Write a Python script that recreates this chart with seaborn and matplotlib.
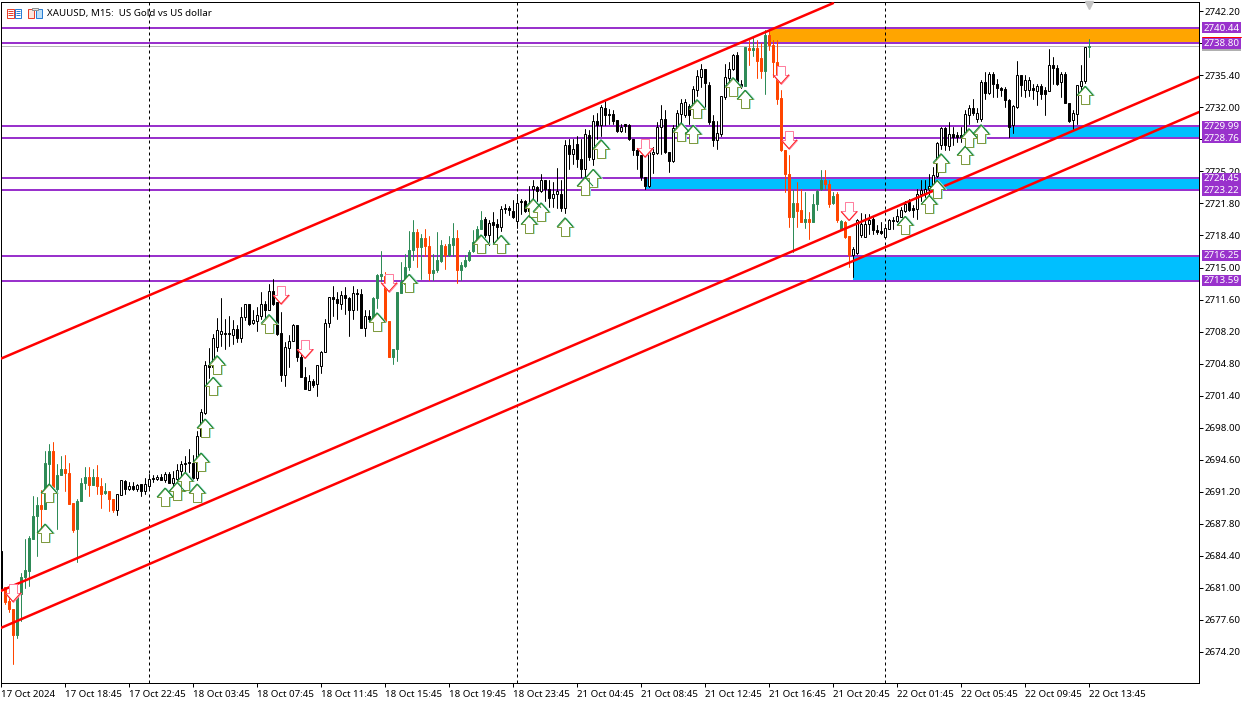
import numpy as np
import pandas as pd
import matplotlib
matplotlib.use("Agg")
import matplotlib.pyplot as plt
import seaborn as sns
from matplotlib.patches import Rectangle
from matplotlib.path import Path
from matplotlib.transforms import IdentityTransform

# -----------------------------
# Candles
# -----------------------------
opens = [
    2684.9, 2681.1, 2679.6, 2678.75, 2676.0, 2680.3, 2682.1, 2682.8, 2686.2, 2688.65,
    2689.8, 2689.4, 2694.15, 2695.55, 2691.5, 2693.0, 2693.65, 2693.15, 2690.0, 2687.2,
    2690.2, 2692.1, 2692.75, 2691.95, 2692.8, 2691.85, 2691.1, 2691.3, 2690.45, 2689.3,
    2690.85, 2692.3, 2691.5, 2691.85, 2691.5, 2692.0, 2691.25, 2691.85, 2692.65, 2692.6,
    2692.8, 2692.4, 2693.1, 2692.15, 2692.55, 2693.35, 2694.1, 2694.4, 2694.3, 2692.7,
    2697.15, 2699.55, 2704.65, 2704.4, 2706.55, 2707.9, 2708.05, 2708.0, 2707.8, 2708.5,
    2707.55, 2709.7, 2711.1, 2709.1, 2709.3, 2709.9, 2711.15, 2710.45, 2712.55, 2711.3,
    2708.05, 2703.55, 2706.45, 2707.2, 2708.9, 2705.45, 2703.4, 2702.05, 2703.0, 2702.65,
    2704.5, 2706.0, 2709.1, 2711.85, 2711.65, 2711.15, 2712.05, 2711.8, 2710.5, 2712.3,
    2712.15, 2708.6, 2709.9, 2709.45, 2711.8, 2714.15, 2714.15, 2709.35, 2705.55, 2706.35,
    2712.3, 2713.25, 2715.1, 2716.9, 2718.75, 2717.15, 2718.15, 2717.3, 2714.4, 2714.7,
    2715.7, 2717.25, 2716.3, 2717.35, 2718.15, 2714.7, 2715.2, 2715.75, 2716.75, 2717.7,
    2719.05, 2720.15, 2718.45, 2719.85, 2719.65, 2719.3, 2721.35, 2721.35, 2721.05, 2719.95,
    2721.9, 2722.1, 2721.6, 2723.35, 2723.55, 2723.1, 2724.3, 2723.35, 2722.35, 2722.85,
    2722.85, 2721.35, 2728.05, 2727.0, 2728.15, 2726.55, 2725.5, 2729.1, 2726.55, 2730.55,
    2730.15, 2731.95, 2731.15, 2731.3, 2730.7, 2729.5, 2730.2, 2730.1, 2728.65, 2727.45,
    2726.9, 2724.6, 2723.6, 2727.1, 2727.15, 2729.9, 2730.8, 2727.25, 2726.35, 2729.75,
    2731.25, 2731.15, 2732.1, 2732.1, 2733.8, 2735.2, 2736.05, 2734.35, 2730.6, 2728.55,
    2729.2, 2733.1, 2735.15, 2736.05, 2737.6, 2734.5, 2734.25, 2738.35, 2738.05, 2738.35,
    2737.25, 2735.85, 2739.65, 2738.6, 2736.8, 2733.0, 2727.45, 2724.95, 2720.35, 2721.85,
    2721.1, 2719.8, 2720.1, 2719.8, 2721.75, 2723.35, 2724.3, 2723.9, 2721.85, 2722.75,
    2719.1, 2719.8, 2718.3, 2716.3, 2716.55, 2718.4, 2718.25, 2719.6, 2720.1, 2718.95,
    2718.85, 2718.25, 2719.1, 2720.05, 2719.9, 2720.35, 2721.05, 2721.95, 2721.3, 2721.25,
    2722.85, 2722.85, 2723.35, 2723.7, 2724.7, 2728.05, 2729.85, 2727.85, 2729.2, 2729.1,
    2729.1, 2728.9, 2731.15, 2731.95, 2730.75, 2730.75, 2734.65, 2733.5, 2735.55, 2734.5,
    2734.0, 2733.9, 2732.8, 2730.1, 2732.05, 2735.4, 2733.85, 2733.85, 2734.1, 2733.75,
    2734.25, 2733.8, 2733.75, 2736.45, 2736.2, 2734.7, 2735.5, 2732.5, 2730.7, 2731.25,
    2734.25, 2734.75, 2738.4,
]
closes = [
    2681.0, 2679.55, 2678.75, 2676.0, 2680.3, 2682.2, 2682.9, 2686.3, 2688.65, 2689.8,
    2689.4, 2694.2, 2695.55, 2691.65, 2693.0, 2693.65, 2693.15, 2689.95, 2687.15, 2690.25,
    2692.1, 2692.75, 2691.95, 2692.8, 2691.85, 2691.0, 2691.3, 2690.4, 2689.25, 2691.0,
    2692.4, 2691.5, 2691.85, 2691.5, 2691.9, 2691.25, 2692.0, 2692.55, 2692.5, 2692.75,
    2692.4, 2693.1, 2692.15, 2692.65, 2693.5, 2694.15, 2694.3, 2694.25, 2692.65, 2697.15,
    2699.65, 2704.6, 2704.4, 2707.55, 2708.4, 2708.25, 2707.9, 2707.9, 2708.5, 2707.55,
    2709.7, 2711.1, 2709.0, 2709.4, 2710.0, 2711.15, 2710.45, 2712.55, 2711.15, 2707.95,
    2703.55, 2706.55, 2707.25, 2708.9, 2705.45, 2703.35, 2702.1, 2703.0, 2702.55, 2704.6,
    2706.0, 2709.1, 2711.85, 2711.65, 2711.2, 2712.05, 2711.75, 2710.5, 2712.3, 2712.15,
    2708.6, 2709.9, 2709.55, 2711.8, 2714.25, 2714.3, 2709.3, 2705.55, 2706.35, 2712.4,
    2713.45, 2715.1, 2716.9, 2718.75, 2717.15, 2718.1, 2717.25, 2714.4, 2714.7, 2715.75,
    2717.35, 2716.3, 2717.45, 2718.1, 2714.7, 2715.25, 2715.75, 2716.65, 2717.75, 2719.1,
    2720.05, 2718.5, 2719.75, 2719.55, 2719.3, 2721.25, 2721.2, 2721.15, 2720.35, 2721.85,
    2722.1, 2721.05, 2721.05, 2723.7, 2723.1, 2724.25, 2723.35, 2722.35, 2722.85, 2723.1,
    2721.35, 2728.05, 2727.0, 2727.6, 2726.55, 2725.5, 2729.2, 2726.7, 2730.6, 2730.15,
    2732.05, 2731.15, 2731.3, 2730.55, 2729.5, 2729.9, 2730.05, 2728.65, 2727.45, 2726.9,
    2724.6, 2723.7, 2727.25, 2727.3, 2729.9, 2730.8, 2727.25, 2726.35, 2729.85, 2731.35,
    2732.45, 2732.55, 2731.15, 2733.9, 2735.3, 2736.05, 2734.6, 2730.45, 2728.55, 2729.3,
    2733.15, 2735.2, 2736.1, 2737.6, 2734.15, 2734.15, 2738.4, 2738.05, 2738.35, 2736.9,
    2735.85, 2739.65, 2738.6, 2736.8, 2732.85, 2727.45, 2724.95, 2720.35, 2721.85, 2721.05,
    2719.8, 2720.1, 2719.8, 2721.75, 2723.1, 2724.3, 2723.9, 2721.75, 2722.6, 2720.0,
    2719.9, 2718.25, 2716.3, 2717.0, 2720.0, 2719.65, 2719.65, 2720.0, 2718.95, 2718.75,
    2718.65, 2719.2, 2720.05, 2719.9, 2720.5, 2721.15, 2721.75, 2721.15, 2721.15, 2722.85,
    2723.2, 2723.35, 2723.7, 2724.8, 2728.2, 2729.85, 2727.95, 2729.2, 2728.85, 2728.85,
    2728.85, 2731.25, 2731.95, 2731.35, 2731.4, 2734.65, 2733.5, 2735.55, 2734.45, 2734.0,
    2733.8, 2732.75, 2729.95, 2732.1, 2735.4, 2734.35, 2734.85, 2734.85, 2733.8, 2734.25,
    2733.4, 2733.45, 2736.45, 2736.2, 2734.45, 2735.5, 2732.45, 2730.6, 2731.35, 2734.35,
    2734.8, 2738.4, 2738.5,
]
highs = [
    2685.2, 2681.1, 2680.3, 2678.75, 2680.3, 2682.6, 2686.2, 2686.5, 2690.8, 2690.6,
    2691.4, 2695.55, 2696.25, 2696.5, 2694.1, 2695.0, 2695.1, 2694.3, 2690.0, 2690.4,
    2692.7, 2693.8, 2693.8, 2693.6, 2694.05, 2692.7, 2692.1, 2691.3, 2690.45, 2691.0,
    2692.45, 2692.4, 2692.2, 2692.2, 2692.0, 2692.0, 2692.7, 2693.1, 2693.0, 2693.0,
    2693.1, 2693.25, 2693.25, 2693.45, 2694.15, 2694.5, 2695.0, 2695.75, 2695.1, 2697.6,
    2699.98, 2705.05, 2706.5, 2707.9, 2709.65, 2711.8, 2709.55, 2709.9, 2709.4, 2708.95,
    2710.8, 2711.15, 2711.15, 2710.45, 2710.8, 2712.4, 2711.4, 2713.25, 2713.8, 2711.3,
    2710.25, 2707.05, 2707.8, 2709.0, 2708.95, 2705.8, 2704.4, 2703.55, 2703.2, 2704.7,
    2706.1, 2709.5, 2711.9, 2713.0, 2712.4, 2712.55, 2712.9, 2711.9, 2713.0, 2712.75,
    2712.75, 2710.45, 2710.45, 2711.85, 2714.3, 2716.8, 2714.5, 2709.35, 2706.35, 2712.4,
    2715.55, 2716.45, 2718.9, 2720.0, 2719.1, 2718.6, 2719.1, 2718.3, 2716.45, 2718.75,
    2717.9, 2717.5, 2718.3, 2719.7, 2719.0, 2715.6, 2716.3, 2716.9, 2719.0, 2719.45,
    2721.05, 2720.35, 2720.0, 2720.9, 2720.2, 2721.5, 2721.75, 2721.5, 2722.2, 2722.85,
    2722.3, 2722.15, 2723.7, 2724.25, 2723.7, 2724.9, 2724.3, 2724.25, 2724.05, 2725.6,
    2724.25, 2728.55, 2728.6, 2728.6, 2729.0, 2728.65, 2729.65, 2729.55, 2731.15, 2731.35,
    2732.2, 2732.7, 2731.85, 2731.75, 2730.7, 2730.25, 2730.25, 2730.25, 2728.65, 2727.6,
    2726.9, 2724.6, 2727.45, 2727.8, 2730.45, 2732.3, 2731.7, 2727.25, 2730.1, 2731.75,
    2732.9, 2732.9, 2732.4, 2734.25, 2735.95, 2736.65, 2736.1, 2734.7, 2731.15, 2730.6,
    2733.25, 2736.65, 2736.8, 2737.7, 2737.85, 2734.85, 2738.45, 2739.1, 2739.45, 2739.1,
    2738.85, 2740.2, 2740.35, 2739.1, 2739.1, 2733.8, 2727.45, 2726.9, 2723.2, 2724.05,
    2723.35, 2723.0, 2720.9, 2722.85, 2723.2, 2725.3, 2725.3, 2724.25, 2723.0, 2723.0,
    2720.0, 2719.9, 2718.3, 2717.15, 2720.15, 2720.8, 2720.7, 2720.7, 2720.35, 2719.5,
    2719.8, 2719.65, 2720.15, 2720.35, 2721.2, 2721.4, 2722.1, 2722.3, 2721.6, 2723.35,
    2724.25, 2724.25, 2724.95, 2725.65, 2728.3, 2729.9, 2729.9, 2730.45, 2729.9, 2729.4,
    2729.9, 2731.7, 2732.2, 2732.9, 2731.95, 2734.85, 2735.75, 2735.75, 2735.75, 2735.05,
    2734.15, 2734.15, 2732.9, 2732.2, 2736.95, 2735.4, 2735.4, 2735.2, 2734.5, 2734.5,
    2734.5, 2734.15, 2738.15, 2737.35, 2736.45, 2735.75, 2735.75, 2732.5, 2731.7, 2734.35,
    2736.45, 2738.45, 2739.2,
]
lows = [
    2681.0, 2679.3, 2678.4, 2672.9, 2675.7, 2677.5, 2681.0, 2681.2, 2686.2, 2684.4,
    2687.05, 2689.4, 2691.5, 2691.5, 2687.25, 2693.0, 2691.3, 2689.95, 2686.9, 2683.7,
    2690.2, 2691.5, 2690.8, 2691.95, 2690.95, 2689.5, 2690.95, 2689.2, 2689.0, 2688.7,
    2690.85, 2690.95, 2691.4, 2691.4, 2691.3, 2690.8, 2690.95, 2691.4, 2692.2, 2692.4,
    2692.4, 2692.2, 2692.1, 2691.65, 2692.4, 2692.4, 2693.25, 2693.25, 2692.55, 2692.45,
    2697.0, 2699.4, 2703.3, 2704.4, 2706.1, 2706.7, 2706.35, 2706.7, 2706.9, 2707.05,
    2707.05, 2709.4, 2708.95, 2709.0, 2708.3, 2709.55, 2709.7, 2710.45, 2711.0, 2707.8,
    2703.0, 2702.4, 2704.4, 2707.2, 2705.1, 2703.35, 2702.1, 2701.95, 2702.3, 2701.4,
    2703.8, 2706.0, 2708.65, 2709.9, 2709.55, 2710.6, 2710.1, 2707.7, 2709.55, 2710.45,
    2708.6, 2707.7, 2709.2, 2709.45, 2710.7, 2713.6, 2709.3, 2705.5, 2704.75, 2705.1,
    2712.3, 2713.25, 2714.7, 2715.8, 2715.1, 2713.8, 2716.2, 2713.65, 2713.65, 2714.5,
    2715.6, 2714.8, 2716.2, 2716.2, 2713.35, 2713.65, 2715.1, 2715.65, 2716.65, 2717.7,
    2719.05, 2718.25, 2717.35, 2717.7, 2718.05, 2718.85, 2720.8, 2720.55, 2720.25, 2719.2,
    2720.7, 2720.9, 2720.35, 2721.6, 2722.1, 2723.0, 2722.1, 2721.4, 2721.4, 2721.35,
    2721.05, 2720.8, 2725.5, 2726.0, 2725.65, 2724.6, 2723.9, 2726.4, 2725.85, 2728.65,
    2729.0, 2730.1, 2730.25, 2730.25, 2729.4, 2729.4, 2729.4, 2728.55, 2726.9, 2725.5,
    2724.25, 2723.35, 2723.5, 2725.0, 2727.1, 2727.1, 2727.2, 2725.15, 2726.2, 2729.55,
    2730.1, 2730.95, 2730.25, 2731.85, 2733.25, 2734.15, 2732.05, 2730.25, 2727.85, 2727.55,
    2729.0, 2732.9, 2734.7, 2735.95, 2733.95, 2734.1, 2734.25, 2736.45, 2737.5, 2735.15,
    2735.15, 2733.4, 2738.05, 2735.2, 2732.4, 2727.35, 2723.0, 2719.3, 2716.65, 2719.3,
    2719.8, 2719.2, 2718.05, 2719.8, 2721.15, 2723.2, 2723.35, 2721.4, 2721.7, 2719.8,
    2718.95, 2718.15, 2715.05, 2713.95, 2716.45, 2718.25, 2718.25, 2718.6, 2718.6, 2718.6,
    2718.6, 2718.15, 2719.1, 2719.1, 2719.8, 2720.35, 2720.9, 2721.05, 2720.35, 2720.2,
    2722.1, 2722.5, 2722.65, 2723.55, 2724.6, 2727.6, 2727.45, 2727.45, 2727.95, 2728.3,
    2728.3, 2728.5, 2730.25, 2731.15, 2730.45, 2730.6, 2732.9, 2733.4, 2733.1, 2733.05,
    2733.15, 2732.05, 2728.85, 2729.25, 2731.95, 2733.25, 2733.1, 2733.15, 2732.9, 2732.3,
    2732.9, 2731.2, 2733.75, 2734.5, 2734.35, 2733.1, 2732.45, 2730.45, 2729.55, 2730.2,
    2733.8, 2734.6, 2737.3,
]

# candle ranges drawn green/orange, everything else is white/black
colored_first = [1, 93, 186, 272]
colored_last = [28, 120, 212, 272]

# -----------------------------
# Levels, zones, trend lines
# -----------------------------
level_prices = [2740.44, 2738.80, 2729.99, 2728.76, 2724.45, 2723.22, 2716.25, 2713.59]

zone_start = [192, 252, 161, 213]
zone_low = [2738.80, 2728.76, 2723.22, 2713.59]
zone_high = [2740.44, 2729.99, 2724.45, 2716.25]
zone_color = ["#FFA500", "#00BFFF", "#00BFFF", "#00BFFF"]

trend_x = [[0, 208], [0, 299.5], [0, 299.5]]
trend_y = [[2705.33, 2743.05], [2680.68, 2735.24], [2676.75, 2731.50]]

day_breaks = [37, 129, 221]

# -----------------------------
# Signal arrows
# -----------------------------
up_idx = [11, 12, 41, 44, 46, 49, 50, 51, 53, 54, 67, 94, 102, 120, 125, 132, 133, 135,
          141, 146, 148, 150, 170, 173, 174, 183, 186, 226, 232, 234, 235, 241, 242, 245, 271]
up_price = [2687.77, 2692.02, 2691.59, 2692.19, 2693.25, 2692.02, 2695.31, 2698.92,
            2703.34, 2705.65, 2710.01, 2710.19, 2714.26, 2718.47, 2718.40, 2720.52,
            2722.30, 2721.87, 2720.28, 2724.59, 2725.41, 2728.57, 2730.37, 2730.09,
            2732.82, 2735.16, 2733.81, 2720.42, 2722.65, 2724.24, 2727.08, 2727.86,
            2729.74, 2730.16, 2734.23]
down_idx = [3, 70, 76, 97, 161, 195, 197, 212]
down_price = [2679.54, 2711.14, 2705.36, 2712.45, 2726.72, 2734.52, 2727.61, 2719.99]

# -----------------------------
# Axis text
# -----------------------------
price_ticks = [2742.20, 2738.80, 2735.40, 2732.00, 2728.60, 2725.20, 2721.80, 2718.40,
               2715.00, 2711.60, 2708.20, 2704.80, 2701.40, 2698.00, 2694.60, 2691.20,
               2687.80, 2684.40, 2681.00, 2677.60, 2674.20]
# these two sit right behind the purple price tags
hidden_ticks = [2738.80, 2728.60]
time_labels = ["17 Oct 2024", "17 Oct 18:45", "17 Oct 22:45", "18 Oct 03:45", "18 Oct 07:45",
               "18 Oct 11:45", "18 Oct 15:45", "18 Oct 19:45", "18 Oct 23:45", "21 Oct 04:45",
               "21 Oct 08:45", "21 Oct 12:45", "21 Oct 16:45", "21 Oct 20:45", "22 Oct 01:45",
               "22 Oct 05:45", "22 Oct 09:45", "22 Oct 13:45"]
title_text = "XAUUSD, M15:  US Gold vs US dollar"

# -----------------------------
# Style
# -----------------------------
sns.set_style("white")
plt.rcParams["font.family"] = ["Noto Sans", "DejaVu Sans"]
FS = 7.0
PX = 0.72  # one pixel as a line width

PURPLE = "#9932CC"
GREEN = "#2E8B57"
ORANGE = "#FF4500"

fig = plt.figure(figsize=(12.5, 7.01), dpi=100)
ax = fig.add_axes([1 / 1250, 18 / 701, 1198 / 1250, 681 / 701])

# -----------------------------
# Candle table
# -----------------------------
df = pd.DataFrame({"open": opens, "high": highs, "low": lows, "close": closes})
df["i"] = np.arange(len(df))
df["rising"] = df["close"] >= df["open"]
df["colored"] = False
for a, b in zip(colored_first, colored_last):
    df.loc[a:b, "colored"] = True
df["kind"] = np.select(
    [df["colored"] & df["rising"], df["colored"], df["rising"]],
    ["green", "orange", "white"],
    "black",
)
df["bottom"] = df[["open", "close"]].min(axis=1)
df["height"] = (df["open"] - df["close"]).abs().clip(lower=0.05)

fill_colors = {"green": GREEN, "orange": ORANGE, "white": "white", "black": "black"}
edge_colors = {"green": GREEN, "orange": ORANGE, "white": "black", "black": "black"}

# -----------------------------
# Zones and levels
# -----------------------------
for start, low, high, col in zip(zone_start, zone_low, zone_high, zone_color):
    ax.fill_between([start, 299.5], low, high, color=col, linewidth=0, zorder=1)

for p in level_prices:
    ax.axhline(p, color=PURPLE, linewidth=2 * PX, zorder=2)
ax.axhline(2738.55, color="#b8b8b8", linewidth=PX, zorder=1.5)

for d in day_breaks:
    ax.axvline(d, color="black", linewidth=PX, linestyle=(0, (3, 3)), zorder=2.2)

# -----------------------------
# Wicks and bodies
# -----------------------------
wicks = pd.concat([
    df[["i", "kind"]].assign(price=df["low"]),
    df[["i", "kind"]].assign(price=df["high"]),
])
sns.lineplot(data=wicks, x="i", y="price", units="i", estimator=None, hue="kind",
             palette=edge_colors, linewidth=PX, legend=False, ax=ax, zorder=3)

for kind, sub in df.groupby("kind"):
    sns.barplot(data=sub, x="i", y="height", native_scale=True, errorbar=None,
                bottom=sub["bottom"].values, width=0.5, color=fill_colors[kind],
                saturation=1, edgecolor=edge_colors[kind], linewidth=PX, ax=ax, zorder=3.2)

# -----------------------------
# Trend lines
# -----------------------------
for xs, ys in zip(trend_x, trend_y):
    sns.lineplot(x=xs, y=ys, color="#FF0000", linewidth=2.5 * PX, sort=False,
                 estimator=None, ax=ax, zorder=4)

# -----------------------------
# Arrows
# -----------------------------
def arrow_path(sign, shift=0):
    pts = [(0, 0), (8, -9), (4, -9), (4, -18), (-4, -18), (-4, -9), (-8, -9), (0, 0)]
    return Path([(px + shift, sign * py) for px, py in pts])

def head_path(sign):
    return Path([(-8, -9 * sign), (0, 0), (8, -9 * sign)])

S_FULL = 672
S_HEAD = 168

sns.scatterplot(x=up_idx, y=up_price, marker=arrow_path(1, 1), s=S_FULL, color="white",
                edgecolor="#9fe6e6", linewidth=PX, ax=ax, zorder=5, clip_on=False)
sns.scatterplot(x=up_idx, y=up_price, marker=arrow_path(1), s=S_FULL, color="white",
                edgecolor="#7f9a3f", linewidth=PX, ax=ax, zorder=5.1, clip_on=False)
sns.scatterplot(x=up_idx, y=up_price, marker=head_path(1), s=S_HEAD, color="none",
                edgecolor="#0f8a3c", linewidth=PX, ax=ax, zorder=5.2, clip_on=False)

sns.scatterplot(x=down_idx, y=down_price, marker=arrow_path(-1), s=S_FULL, color="white",
                edgecolor="#ff7f9f", linewidth=PX, ax=ax, zorder=5.1, clip_on=False)
sns.scatterplot(x=down_idx, y=down_price, marker=head_path(-1), s=S_HEAD, color="none",
                edgecolor="#ff2020", linewidth=PX, ax=ax, zorder=5.2, clip_on=False)

# -----------------------------
# Axes
# -----------------------------
ax.set_xlim(0, 299.5)
ax.set_ylim(2670.90, 2743.18)
ax.set_xlabel("")
ax.set_ylabel("")

ax.yaxis.tick_right()
ax.set_yticks(price_ticks)
ax.set_yticklabels(["" if p in hidden_ticks else f"{p:.2f}" for p in price_ticks],
                   fontsize=FS, color="black")
ax.set_xticks(np.arange(len(time_labels)) * 16)
ax.set_xticklabels(time_labels, fontsize=FS, color="black", ha="left")
ax.tick_params(axis="both", length=2.9, width=PX, color="black", pad=1.2, bottom=True, right=True)
ax.tick_params(axis="x", pad=2)
for s in ax.spines.values():
    s.set_linewidth(PX)
    s.set_color("black")

# -----------------------------
# Price tags on the right
# -----------------------------
yt = ax.get_yaxis_transform()
ax.add_patch(Rectangle((1.0025, 2737.95), 0.0326, 0.8, transform=yt, facecolor="#b0b0b0",
                       edgecolor="none", clip_on=False, zorder=6))
for p in level_prices:
    ax.add_patch(Rectangle((1.0025, p - 0.58), 0.0326, 1.17, transform=yt, facecolor=PURPLE,
                           edgecolor="none", clip_on=False, zorder=6.1))
    ax.text(1.0187, p - 0.02, f"{p:.2f}", transform=yt, color="white", fontsize=FS,
            ha="center", va="center", clip_on=False, zorder=6.2)
ax.plot([1.0025, 1.0351], [2739.42, 2739.42], transform=yt, color="#FF0000", linewidth=PX,
        clip_on=False, zorder=6.3)

ax.plot([272], [2742.85], marker="v", markersize=6, color="#c4c4c4", linestyle="none",
        clip_on=False, zorder=6)

# -----------------------------
# Header text and icons
# -----------------------------
fig.text(47 / 1250, 1 - 13.5 / 701, title_text, fontsize=FS, color="black", ha="left", va="center",
         zorder=10)

def box(x, y, w, h, col, fill="white"):
    fig.add_artist(Rectangle((x, 701 - y - h), w, h, transform=IdentityTransform(),
                             facecolor=fill, edgecolor=col, linewidth=PX, zorder=10))

box(6.5, 8.5, 7, 9, "#E8402A")
box(14.5, 8.5, 6, 9, "#2A7FD5")
for yy in (10.5, 12.5, 14.5):
    box(7.5, yy, 5, 0.5, "#E8402A")
    box(15.5, yy, 4, 0.5, "#2A7FD5")
box(27.5, 8.5, 6, 9, "#E8402A", "#fbe6dc")
box(35.5, 8.5, 6, 9, "#2A7FD5", "#bfe0f7")
box(31.5, 7.5, 6, 2, "#909090", "#e8e8e8")

plt.savefig("out.png", dpi=100)
plt.close()
